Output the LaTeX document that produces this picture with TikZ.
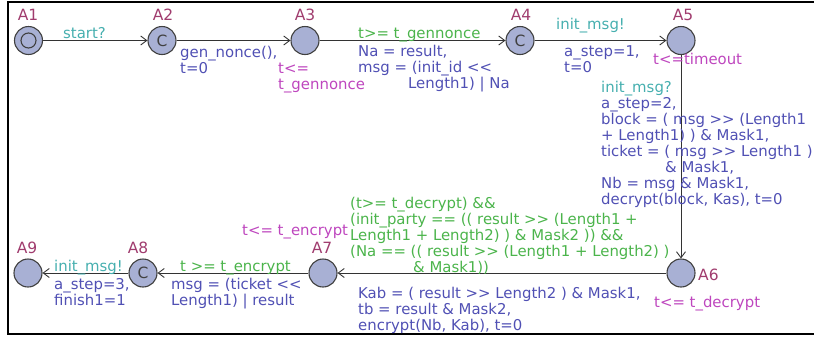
\documentclass[tikz,border=0pt]{standalone}
\usepackage{fontspec}
\setmainfont{DejaVu Sans}[Ligatures=TeXOff]
\usetikzlibrary{arrows.meta}
\definecolor{locname}{RGB}{160,60,110}
\definecolor{syncc}{RGB}{70,175,175}
\definecolor{guardc}{RGB}{75,180,75}
\definecolor{updc}{RGB}{80,80,180}
\definecolor{invc}{RGB}{190,70,190}
\definecolor{locfill}{RGB}{168,176,212}
\begin{document}
\begin{tikzpicture}[x=1pt,y=-1pt,
  loc/.style={circle,draw=black!75,fill=locfill,line width=1.1pt,minimum size=28pt,inner sep=0pt,
    font=\fontsize{15.5}{15.5}\selectfont,text=black!75},
  txt/.style={anchor=north west,inner sep=0pt,align=left,font=\fontsize{14.9}{16}\selectfont,
    execute at begin node=\strut},
  nm/.style={inner sep=0pt,font=\fontsize{15.5}{16}\selectfont,text=locname},
  sync/.style={txt,text=syncc},
  guard/.style={txt,text=guardc},
  upd/.style={txt,text=updc},
  inv/.style={txt,text=invc},
  edge/.style={draw=black!80,line width=0.9pt,-{Straight Barb[length=6pt,width=9pt]}}
]
\useasboundingbox (0,0) rectangle (814,341);
% frame
\draw[line width=2pt] (814,2) -- (8,2) -- (8,334) -- (814,334);

% locations
\node[loc] (A1) at (28.5,40.5) {};
\draw[black!75,line width=1.1pt] (A1.center) circle (7.5);
\node[loc] (A2) at (162,40.5) {C};
\node[loc] (A3) at (305,40.5) {};
\node[loc] (A4) at (520,40.5) {C};
\node[loc] (A5) at (681,40.5) {};
\node[loc] (A6) at (681,273) {};
\node[loc] (A7) at (323,273) {};
\node[loc] (A8) at (143,273) {C};
\node[loc] (A9) at (28,273) {};

% names
\node[nm] (nA1) at (28,15) {A1};
\node[nm] (nA2) at (163,15) {A2};
\node[nm] (nA3) at (305,15) {A3};
\node[nm] (nA4) at (521,15) {A4};
\node[nm] (nA5) at (683,15) {A5};
\node[nm,anchor=west] (nA6) at (698,275) {A6};
\node[nm] (nA7) at (322,248) {A7};
\node[nm] (nA8) at (138,248) {A8};
\node[nm] (nA9) at (27,248) {A9};

% edges
\draw[edge] (A1) -- (A2);
\draw[edge] (A2) -- (A3);
\draw[edge] (A3) -- (A4);
\draw[edge] (A4) -- (A5);
\draw[edge] (A5) -- (A6);
\draw[edge] (A6) -- (A7);
\draw[edge] (A7) -- (A8);
\draw[edge] (A8) -- (A9);

% labels
\node[sync] (s12) at (63,26.8) {start?};
\node[upd] (u23) at (180,45.8) {gen\_nonce(),\\t=0};
\node[inv] (i3) at (278,62.8) {t<=\\t\_gennonce};
\node[guard] (g34) at (358,26.8) {t>= t\_gennonce};
\node[upd] (u34) at (358,44.8) {Na = result,\\msg = (init\_id <<\\\hspace*{50pt}Length1) | Na};
\node[sync] (s45) at (556,17.8) {init\_msg!};
\node[upd] (u45) at (564,45.8) {a\_step=1,\\t=0};
\node[inv] (i5) at (653,52.8) {t<=timeout};
\node[sync] (s56) at (601,80.8) {init\_msg?};
\node[upd] (u56) at (601,96.8) {a\_step=2,\\block = ( msg >> (Length1\\+ Length1) ) \& Mask1,\\ticket = ( msg >> Length1 )\\\hspace*{64pt}\& Mask1,\\Nb = msg \& Mask1,\\decrypt(block, Kas), t=0};
\node[guard] (g67) at (350,196.8) {(t>= t\_decrypt) \&\&\\(init\_party == (( result >> (Length1 +\\Length1 + Length2) ) \& Mask2 )) \&\&\\(Na == (( result >> (Length1 + Length2) )\\\hspace*{63pt}\& Mask1))};
\node[upd] (u67) at (358,286.8) {Kab = ( result >> Length2 ) \& Mask1,\\tb = result \& Mask2,\\encrypt(Nb, Kab), t=0};
\node[inv] (i6) at (654,295.8) {t<= t\_decrypt};
\node[inv] (i7) at (242,223.8) {t<= t\_encrypt};
\node[guard] (g78) at (180,259.8) {t >= t\_encrypt};
\node[upd] (u78) at (171,277.8) {msg = (ticket <<\\Length1) | result};
\node[sync] (s89) at (54,259.8) {init\_msg!};
\node[upd] (u89) at (54,277.8) {a\_step=3,\\finish1=1};
\end{tikzpicture}
\end{document}
